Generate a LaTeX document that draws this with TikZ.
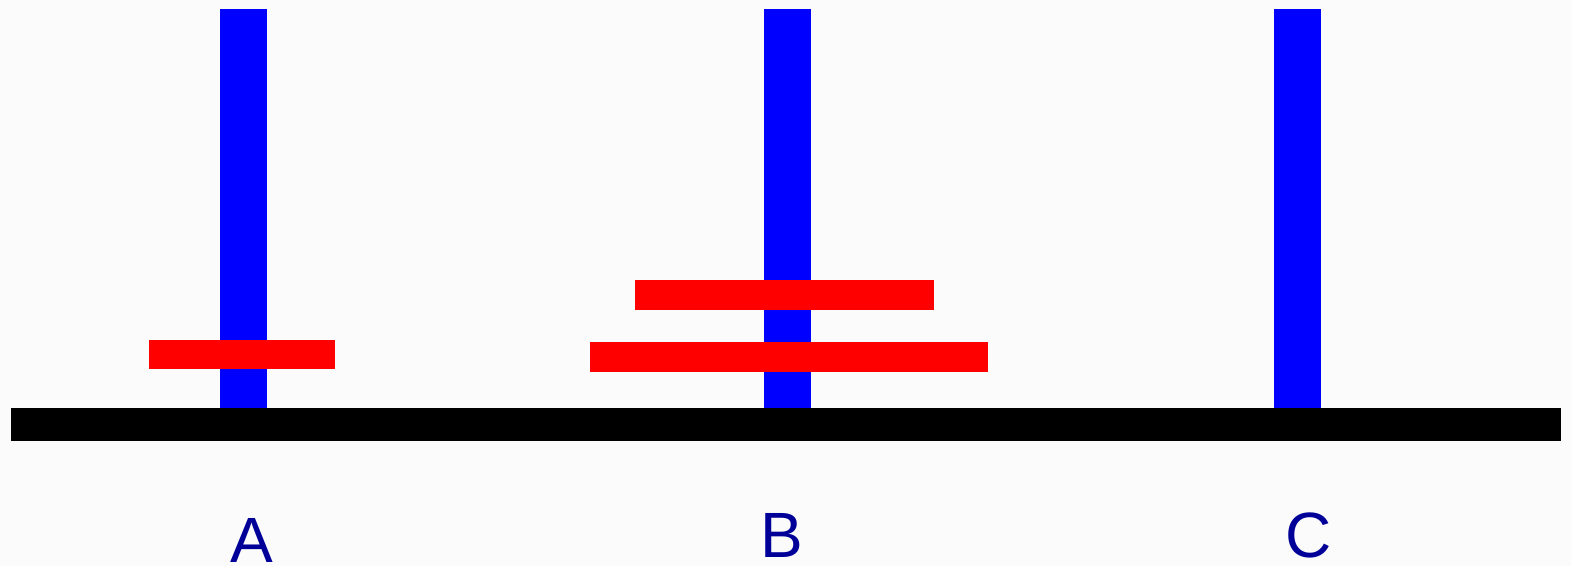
\documentclass[tikz,border=0pt]{standalone}
\usepackage{fontspec}
\setmainfont{Liberation Sans}
\definecolor{pegblue}{RGB}{0,0,255}
\definecolor{diskred}{RGB}{255,0,0}
\definecolor{labelblue}{RGB}{0,0,153}
\definecolor{bgcol}{RGB}{251,251,251}
\begin{document}
\begin{tikzpicture}[x=1pt,y=-1pt,
  peg/.style={fill=pegblue},
  disk/.style={fill=diskred},
  base/.style={fill=black},
  pegname/.style={text=labelblue,font=\fontsize{64}{70}\selectfont,anchor=base,inner sep=0pt}]
\useasboundingbox (0,0) rectangle (1571,566);
\fill[bgcol] (0,0) rectangle (1571,566);
% pegs
\fill[peg] (220,9) rectangle (267,408);
\fill[peg] (764,9) rectangle (811,408);
\fill[peg] (1274,9) rectangle (1321,408);
% base
\fill[base] (11,408) rectangle (1561,441);
% disks
\fill[disk] (149,340) rectangle (335,369);
\fill[disk] (635,280) rectangle (934,310);
\fill[disk] (590,342) rectangle (988,372);
% labels
\node[pegname] (la) at (251.5,562) {A};
\node[pegname] (lb) at (781.5,557) {B};
\node[pegname] (lc) at (1308.5,557) {C};
\end{tikzpicture}
\end{document}
